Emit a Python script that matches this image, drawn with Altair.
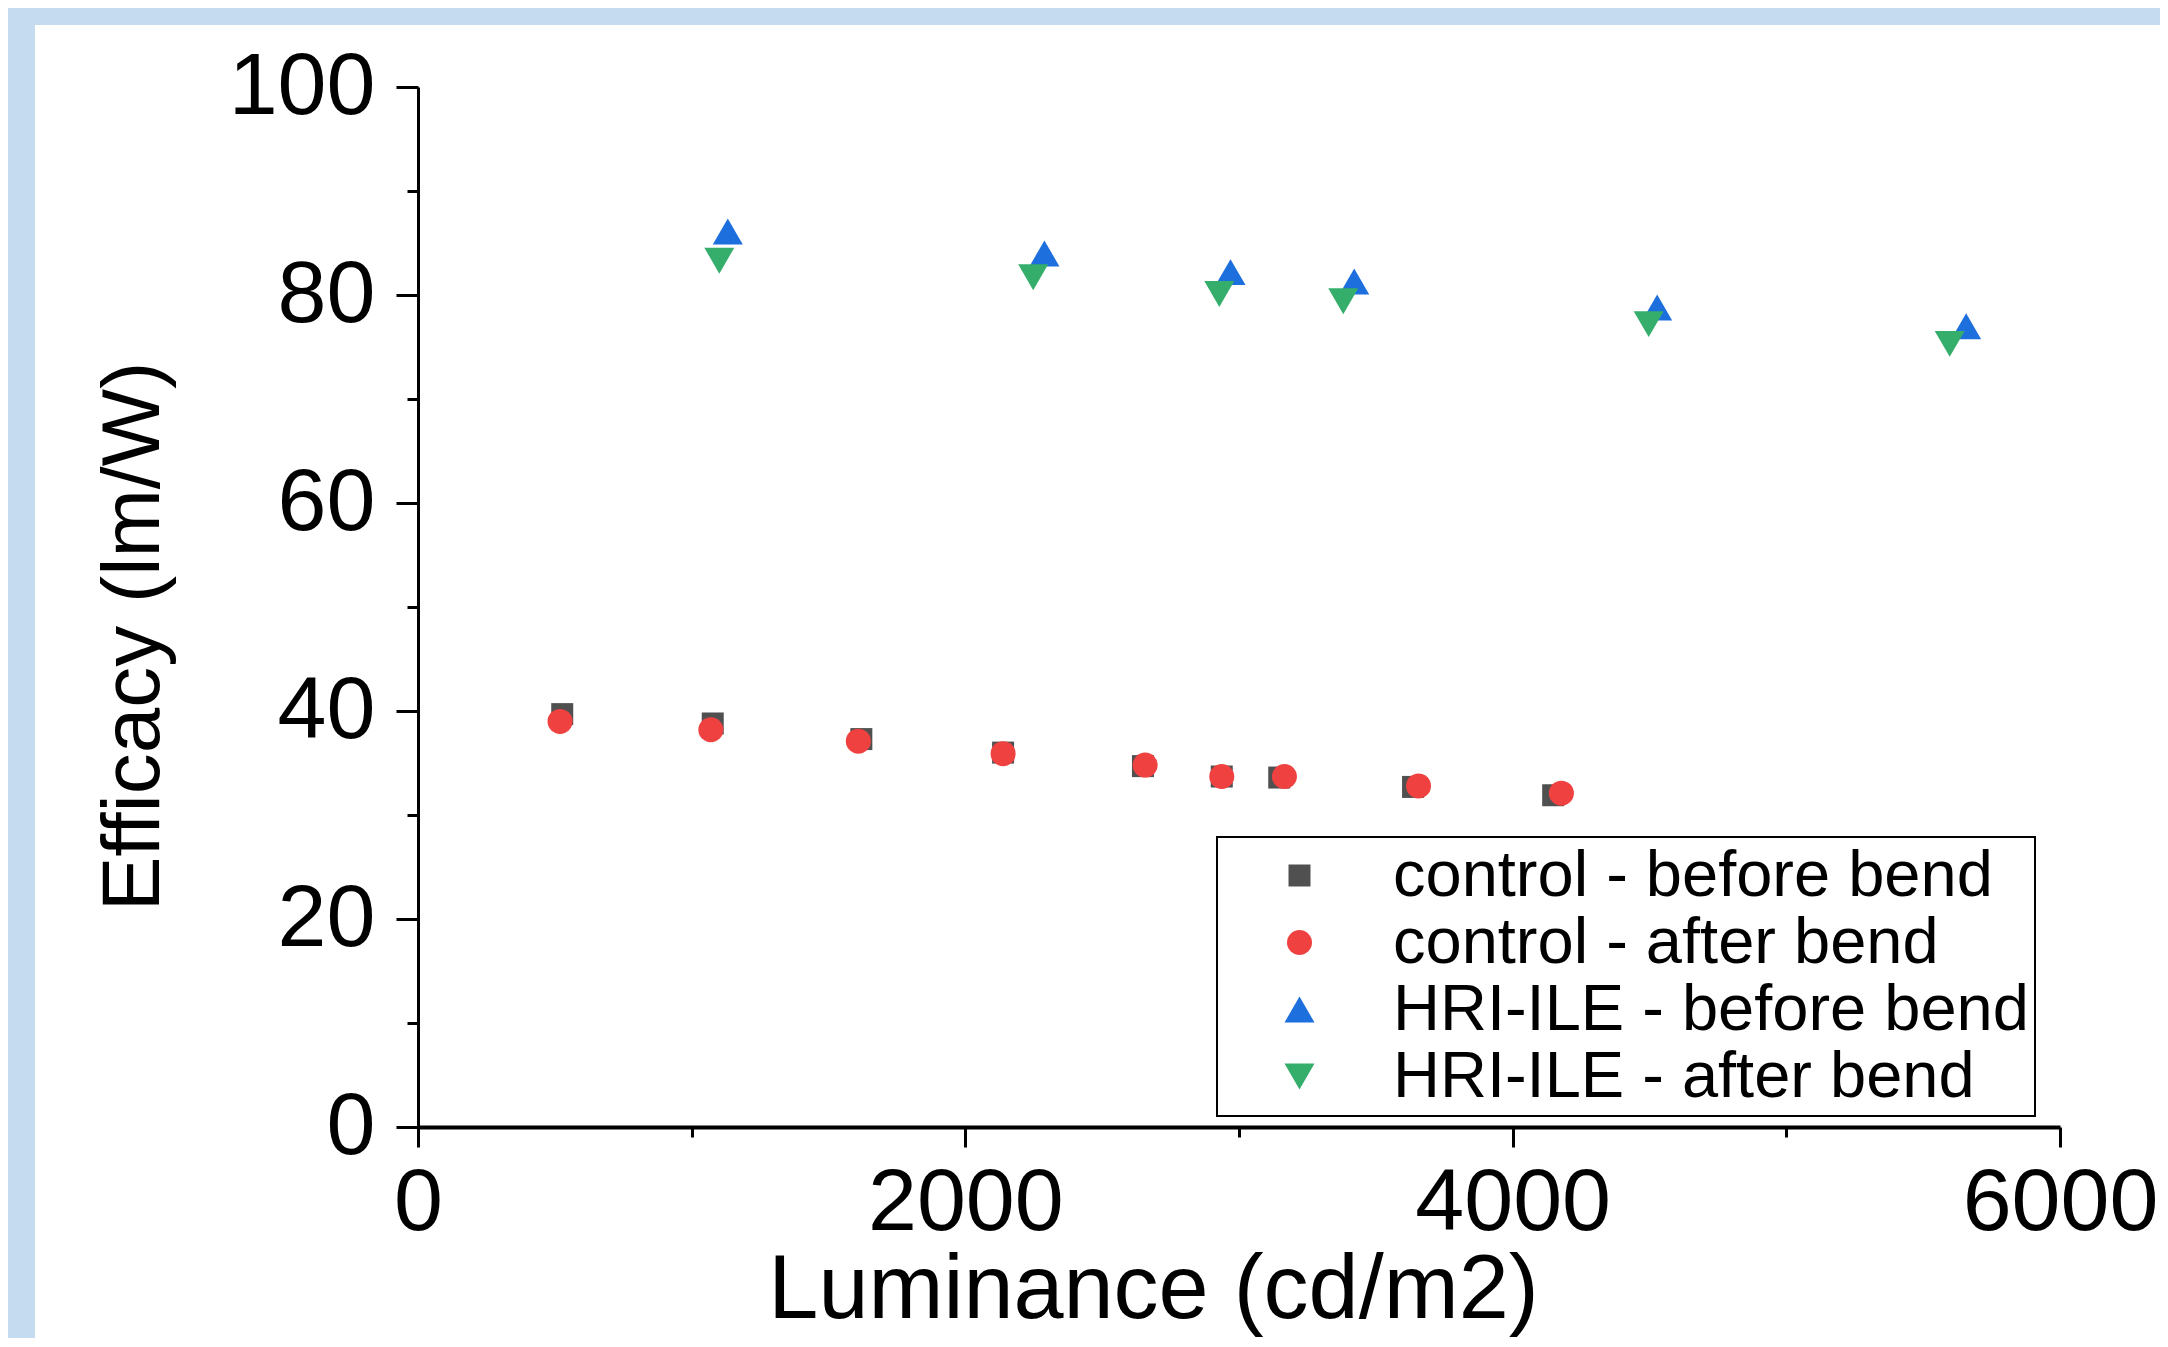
import altair as alt
import pandas as pd

series_names = ["control - before bend", "control - after bend",
                "HRI-ILE - before bend", "HRI-ILE - after bend"]
series_colors = ["#505050", "#f04141", "#1e6fde", "#35ad6b"]
series_shapes = ["square", "circle", "triangle-up", "triangle-down"]
series_sizes = [484, 625, 900, 900]

ctrl_before_x = [527, 1077, 1620, 2138, 2649, 2937, 3147, 3636, 4148]
ctrl_before_y = [39.7, 38.8, 37.3, 36.0, 34.7, 33.7, 33.6, 32.7, 31.9]
ctrl_after_x = [519, 1070, 1609, 2138, 2657, 2937, 3166, 3656, 4178]
ctrl_after_y = [39.0, 38.2, 37.1, 35.9, 34.8, 33.7, 33.7, 32.8, 32.1]
hri_before_x = [1132, 2289, 2969, 3421, 4528, 5657]
hri_before_y = [86.1, 84.0, 82.2, 81.3, 78.8, 77.0]
hri_after_x = [1101, 2248, 2928, 3381, 4497, 5597]
hri_after_y = [83.3, 81.7, 80.1, 79.4, 77.2, 75.3]

x_ticks = [0, 1000, 2000, 3000, 4000, 5000, 6000]
y_ticks = [0, 10, 20, 30, 40, 50, 60, 70, 80, 90, 100]

rows = []
for name, xs, ys in zip(series_names,
                        [ctrl_before_x, ctrl_after_x, hri_before_x, hri_after_x],
                        [ctrl_before_y, ctrl_after_y, hri_before_y, hri_after_y]):
    for xv, yv in zip(xs, ys):
        rows.append({"series": name, "lum": xv, "eff": yv})
df = pd.DataFrame(rows)

FONT = "Liberation Sans"

legend = alt.Legend(
    orient="none", legendX=799, legendY=750, title=None,
    labelFont=FONT, labelFontSize=65, labelColor="black", labelLimit=0,
    strokeColor="black", fillColor="white",
    padding=6, rowPadding=1, symbolOffset=44, labelOffset=61,
    symbolStrokeWidth=0, symbolOpacity=1,
)

x_axis = alt.Axis(
    values=x_ticks, format="d",
    labelExpr="datum.value % 2000 === 0 ? datum.label : ''",
    tickSize={"condition": {"test": "datum.value % 2000 === 0", "value": 20}, "value": 10},
    labelPadding=12, labelFont=FONT, labelFontSize=88, labelColor="black",
    labelOverlap=False, labelFlush=False, labelBound=False, labelLimit=0,
    domainColor="black", domainWidth=4, tickColor="black", tickWidth=3,
    grid=False, title="Luminance (cd/m2)", titleFont=FONT, titleFontSize=90,
    titleFontWeight="normal", titleColor="black", titleX=735, titleY=190,
    titleBaseline="alphabetic", titleAlign="center", titleLimit=0,
)
y_axis = alt.Axis(
    values=y_ticks,
    labelExpr="datum.value % 20 === 0 ? datum.label : ''",
    tickSize={"condition": {"test": "datum.value % 20 === 0", "value": 22}, "value": 11},
    labelPadding=21, labelFont=FONT, labelFontSize=88, labelColor="black",
    labelOverlap=False, labelFlush=False, labelBound=False, labelLimit=0,
    domainColor="black", domainWidth=3, tickColor="black", tickWidth=3,
    grid=False, title="Efficacy (lm/W)", titleFont=FONT, titleFontSize=82,
    titleFontWeight="normal", titleColor="black", titleAngle=270,
    titleX=-260, titleY=549, titleBaseline="alphabetic", titleAlign="center",
    titleLimit=0,
)

points = alt.Chart(df).mark_point(filled=True, opacity=1, strokeWidth=0).encode(
    x=alt.X("lum:Q", scale=alt.Scale(domain=[0, 6000], nice=False, zero=True), axis=x_axis),
    y=alt.Y("eff:Q", scale=alt.Scale(domain=[0, 100], nice=False, zero=True), axis=y_axis),
    color=alt.Color("series:N", scale=alt.Scale(domain=series_names, range=series_colors), legend=legend),
    shape=alt.Shape("series:N", scale=alt.Scale(domain=series_names, range=series_shapes), legend=legend),
    size=alt.Size("series:N", scale=alt.Scale(type="ordinal", domain=series_names, range=series_sizes), legend=legend),
)

one = pd.DataFrame({"a": [0]})
band_color = "#c5dcf0"
band_top = alt.Chart(one).mark_rect(color=band_color).encode(
    x=alt.value(-410), x2=alt.value(1742), y=alt.value(-79), y2=alt.value(-62)
)
band_left = alt.Chart(one).mark_rect(color=band_color).encode(
    x=alt.value(-410), x2=alt.value(-383), y=alt.value(-79), y2=alt.value(1252)
)

chart = alt.layer(band_top, band_left, points).properties(
    width=1642, height=1040,
    autosize=alt.AutoSizeParams(type="none"),
    padding={"left": 410, "top": 79, "right": 100, "bottom": 211},
    background="white",
).configure_view(stroke=None).configure_legend(strokeWidth=2)

chart.save("out.html", embed_options={"renderer": "svg", "actions": False})
